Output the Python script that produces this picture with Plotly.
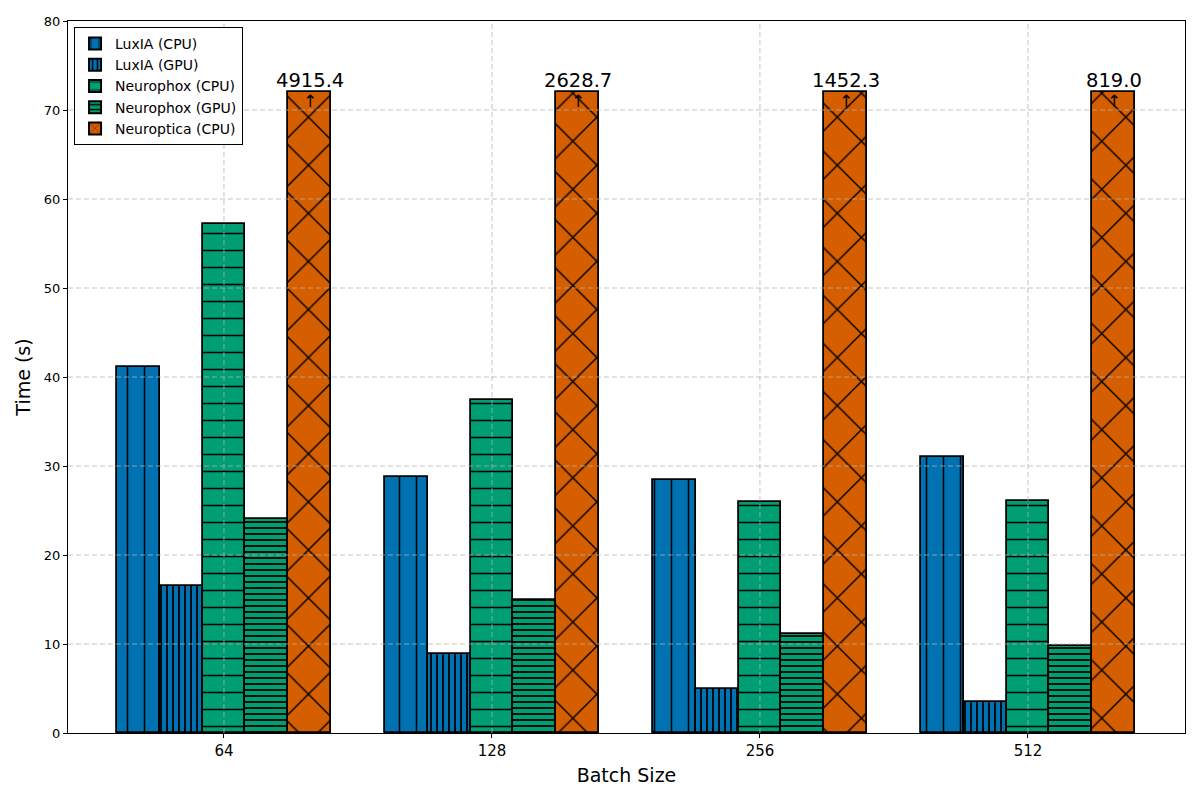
import plotly.graph_objects as go

batch_sizes = ["64", "128", "256", "512"]
luxia_cpu = [41.1, 28.8, 28.4, 31.0]
luxia_gpu = [16.5, 8.9, 4.9, 3.5]
neurophox_cpu = [57.2, 37.4, 26.0, 26.1]
neurophox_gpu = [24.0, 14.9, 11.1, 9.8]
neuroptica_cpu = [4915.4, 2628.7, 1452.3, 819.0]
cap = 72
y_ticks = [0, 10, 20, 30, 40, 50, 60, 70, 80]

series = [
    ("LuxIA (CPU)", luxia_cpu, "#0072B2", "|", 17, 0.09),
    ("LuxIA (GPU)", luxia_gpu, "#0072B2", "|", 6, 0.3),
    ("Neurophox (CPU)", neurophox_cpu, "#009E73", "-", 17, 0.09),
    ("Neurophox (GPU)", neurophox_gpu, "#009E73", "-", 6, 0.3),
    ("Neuroptica (CPU)", neuroptica_cpu, "#D55E00", "x", 34, 0.08),
]

w = 0.16
xs = list(range(len(batch_sizes)))
fig = go.Figure()
for i, (name, vals, color, shape, size, sol) in enumerate(series):
    off = (i - 2) * w
    shown = [min(v, cap) for v in vals]
    fig.add_trace(go.Bar(
        x=[x + off for x in xs], y=shown, width=w, name=name,
        marker=dict(color=color, line=dict(color="black", width=1.8),
                    pattern=dict(shape=shape, size=size, solidity=sol,
                                 fgcolor="black", fgopacity=1, bgcolor=color,
                                 fillmode="overlay")),
    ))
    if max(vals) > cap:
        for x, v in zip(xs, vals):
            if v > cap:
                fig.add_annotation(x=x + off, y=cap - 0.15, text=f"{v:.1f}", showarrow=False,
                                   yanchor="bottom", font=dict(size=19.5, color="black"))
                fig.add_annotation(x=x + off, y=cap + 0.35, text="↑", showarrow=False,
                                   yanchor="top", font=dict(size=17, color="black"))

grid = dict(line=dict(color="rgba(176,176,176,0.85)", width=0.9, dash="5px,3px"), layer="above")
for yv in y_ticks[1:-1]:
    fig.add_shape(type="line", xref="paper", x0=0, x1=1, yref="y", y0=yv, y1=yv, **grid)
for x in xs:
    fig.add_shape(type="line", xref="x", x0=x, x1=x, yref="paper", y0=0, y1=1, **grid)

axis_common = dict(showline=True, linecolor="black", linewidth=1, mirror=True,
                   ticks="outside", ticklen=4, tickcolor="black", showgrid=False,
                   zeroline=False)
fig.update_layout(
    width=1200, height=800,
    margin=dict(l=68, r=15, t=21, b=67),
    paper_bgcolor="white", plot_bgcolor="white",
    font=dict(family="DejaVu Sans", color="black"),
    barmode="overlay", bargap=0,
    xaxis=dict(range=[-0.582, 3.586], tickvals=xs, ticktext=batch_sizes,
               tickfont=dict(size=15, color="black"),
               title=dict(text="Batch Size", font=dict(size=19), standoff=9), **axis_common),
    yaxis=dict(range=[0, 80], tickvals=y_ticks, tickfont=dict(size=13, color="black"),
               title=dict(text="Time (s)", font=dict(size=19), standoff=8), **axis_common),
    legend=dict(x=0.0054, y=0.9916, xanchor="left", yanchor="top",
                bordercolor="black", borderwidth=1, bgcolor="white",
                font=dict(size=14), tracegroupgap=0, itemsizing="constant"),
    showlegend=True,
)
fig.write_html(
    "out.html",
    config={"displayModeBar": False},
    post_script="document.body.style.margin='0';document.body.style.overflow='hidden';",
)
